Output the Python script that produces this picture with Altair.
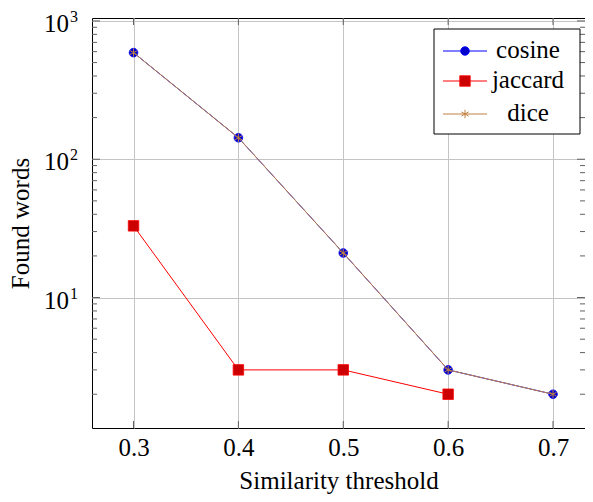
import altair as alt
import pandas as pd

# ---- data ----
thresholds = [0.3, 0.4, 0.5, 0.6, 0.7]
cosine = [590, 143, 21, 3, 2]
jaccard_thresholds = [0.3, 0.4, 0.5, 0.6]
jaccard = [33, 3, 3, 2]
dice = [590, 143, 21, 3, 2]

x_ticks = [0.3, 0.4, 0.5, 0.6, 0.7]
y_major = [10, 100, 1000]
y_minor = [m * d for d in (1, 10, 100) for m in range(2, 10)]
series_names = ["cosine", "jaccard", "dice"]

FONT = "Liberation Serif"
W, H = 493, 410

xscale = alt.Scale(domain=[0.2604, 0.7305], nice=False, zero=False)
yscale = alt.Scale(type="log", domain=[1.14, 1050], nice=False)

cos_df = pd.DataFrame({"threshold": thresholds, "value": cosine})
jac_df = pd.DataFrame({"threshold": jaccard_thresholds, "value": jaccard})
dice_df = pd.DataFrame({"threshold": thresholds, "value": dice})

X = alt.X(
    "threshold:Q", scale=xscale,
    axis=alt.Axis(values=x_ticks, format=".1f", grid=True, gridColor="#c4c4c4",
                  gridWidth=1, ticks=False, domain=False, labelFont=FONT,
                  labelFontSize=25, labelPadding=7, labelColor="black",
                  title="Similarity threshold", titleFont=FONT, titleFontSize=25,
                  titleFontWeight="normal", titleColor="black", titlePadding=8))
Y = alt.Y(
    "value:Q", scale=yscale,
    axis=alt.Axis(values=y_major, grid=True, gridColor="#c4c4c4", gridWidth=1,
                  labels=False, ticks=False, domain=False,
                  title="Found words", titleFont=FONT, titleFontSize=25,
                  titleFontWeight="normal", titleColor="black", titlePadding=59))

ASTERISK = "M0,-1L0,1M-0.866,-0.5L0.866,0.5M-0.866,0.5L0.866,-0.5"

cos_line = alt.Chart(cos_df).mark_line(color="#0000ff", strokeWidth=1).encode(x=X, y=Y)
cos_pts = alt.Chart(cos_df).mark_point(shape="circle", filled=True, fill="#0000cc",
                                       stroke="#0000ff", strokeWidth=0.8, size=75,
                                       opacity=1).encode(x=X, y=Y)
jac_line = alt.Chart(jac_df).mark_line(color="#ff0000", strokeWidth=1).encode(x=X, y=Y)
jac_pts = alt.Chart(jac_df).mark_point(shape="square", filled=True, fill="#cc0000",
                                       stroke="#ff0000", strokeWidth=0.8, size=110,
                                       opacity=1).encode(x=X, y=Y)
dice_line = alt.Chart(dice_df).mark_line(color="#bf8040", strokeWidth=1).encode(x=X, y=Y)
dice_pts = alt.Chart(dice_df).mark_point(shape=ASTERISK, filled=False, stroke="#bf8040",
                                         strokeWidth=1, size=70, opacity=1).encode(x=X, y=Y)

# ---- inward ticks (pgfplots style) ----
xt_df = pd.DataFrame({"threshold": x_ticks})
ymaj_df = pd.DataFrame({"value": y_major})
ymin_df = pd.DataFrame({"value": y_minor})
TICK = "#606060"

xt_bottom = alt.Chart(xt_df).mark_rule(color=TICK, strokeWidth=1).encode(
    x=X, y=alt.value(H), y2=alt.value(H - 7))
xt_top = alt.Chart(xt_df).mark_rule(color=TICK, strokeWidth=1).encode(
    x=X, y=alt.value(0), y2=alt.value(7))
ymaj_left = alt.Chart(ymaj_df).mark_rule(color=TICK, strokeWidth=1).encode(
    y=Y, x=alt.value(0), x2=alt.value(8))
ymaj_right = alt.Chart(ymaj_df).mark_rule(color=TICK, strokeWidth=1).encode(
    y=Y, x=alt.value(W), x2=alt.value(W - 8))
ymin_left = alt.Chart(ymin_df).mark_rule(color=TICK, strokeWidth=1).encode(
    y=Y, x=alt.value(0), x2=alt.value(5))
ymin_right = alt.Chart(ymin_df).mark_rule(color=TICK, strokeWidth=1).encode(
    y=Y, x=alt.value(W), x2=alt.value(W - 5))

# ---- y tick labels 10^n ----
ylab_base = alt.Chart(ymaj_df).transform_calculate(
    e="format(round(log(datum.value) / LN10), 'd')")
ylab_ten = ylab_base.mark_text(font=FONT, fontSize=25, align="right",
                               baseline="alphabetic", dy=11, color="black").encode(
    y=Y, x=alt.value(-23), text=alt.value("10"))
ylab_exp = ylab_base.mark_text(font=FONT, fontSize=16, align="left",
                               baseline="alphabetic", dy=1, color="black").encode(
    y=Y, x=alt.value(-22), text="e:N")

# ---- legend box ----
one = pd.DataFrame({"k": [0]})
legend_box = alt.Chart(one).mark_rect(fill="white", stroke="black", strokeWidth=1).encode(
    x=alt.value(342), x2=alt.value(488), y=alt.value(11), y2=alt.value(116))

leg_colors = ["#0000ff", "#ff0000", "#bf8040"]
leg_fills = ["#0000cc", "#cc0000", None]
leg_shapes = ["circle", "square", ASTERISK]
leg_sizes = [75, 110, 70]
leg_y = [33, 63, 96]

legend_layers = [legend_box]
for name, col, fil, shp, sz, yy in zip(series_names, leg_colors, leg_fills,
                                        leg_shapes, leg_sizes, leg_y):
    legend_layers.append(alt.Chart(one).mark_rule(color=col, strokeWidth=1).encode(
        x=alt.value(351), x2=alt.value(395), y=alt.value(yy)))
    if fil:
        pt = alt.Chart(one).mark_point(shape=shp, filled=True, fill=fil, stroke=col,
                                       strokeWidth=0.8, size=sz, opacity=1)
    else:
        pt = alt.Chart(one).mark_point(shape=shp, filled=False, stroke=col,
                                       strokeWidth=1, size=sz, opacity=1)
    legend_layers.append(pt.encode(x=alt.value(373), y=alt.value(yy)))
    legend_layers.append(alt.Chart(one).mark_text(
        font=FONT, fontSize=25, align="center", baseline="alphabetic", color="black"
    ).encode(x=alt.value(436), y=alt.value(yy + 7), text=alt.value(name)))

chart = alt.layer(
    cos_line, xt_bottom, xt_top, ymaj_left, ymaj_right, ymin_left, ymin_right,
    cos_pts, jac_line, jac_pts, dice_line, dice_pts,
    ylab_ten, ylab_exp, *legend_layers
).properties(
    width=W, height=H,
    autosize=alt.AutoSizeParams(type="none"),
    padding={"left": 84, "top": 10, "right": 0, "bottom": 66},
).configure_view(stroke="black", strokeWidth=1)

chart.save("out.html", embed_options={"renderer": "svg", "actions": False})
